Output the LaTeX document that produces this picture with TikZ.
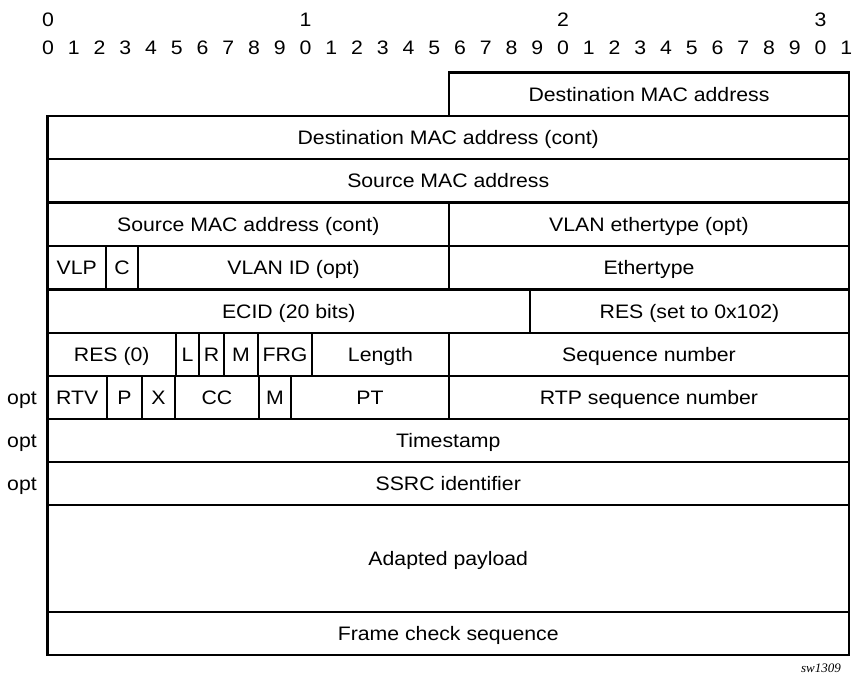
\documentclass[tikz,border=0pt]{standalone}
\usepackage{fontspec}
\setmainfont[FakeStretch=1.09]{Liberation Sans}
\newfontfamily\tagfont{Liberation Serif}
\tikzset{
  fld/.style={draw, line width=2.4pt, inner sep=0pt, anchor=center,
    font=\fontsize{19.5}{24}\selectfont, text height=14pt, text depth=0pt},
  lbl/.style={inner sep=0pt, anchor=center,
    font=\fontsize{19.5}{24}\selectfont, text height=14pt, text depth=0pt},
  tagtext/.style={inner sep=0pt, font=\tagfont\itshape\fontsize{13}{15}\selectfont},
}
% \fld{name}{x1}{y1}{x2}{y2}{text}
\newcommand\fld[6]{\node[fld, minimum width={(#4-#2)*1pt}, minimum height={(#5-#3)*1pt}]
  (#1) at ({(#2+#4)/2},{(#3+#5)/2}) {#6};}
\begin{document}
\begin{tikzpicture}[x=1pt,y=-1pt]
\useasboundingbox (0,0) rectangle (852,677);
% bit ruler
\node[lbl] (t0) at (48,20) {0};
\node[lbl] (t1) at ({48+25.75*10},20) {1};
\node[lbl] (t2) at ({48+25.75*20},20) {2};
\node[lbl] (t3) at ({48+25.75*30},20) {3};
\foreach \i in {0,...,31}{
  \pgfmathtruncatemacro\d{mod(\i,10)}
  \node[lbl] (b\i) at ({48+25.75*\i},48) {\d};
}
% rows
\fld{dmac}{449}{72.5}{849}{116}{Destination MAC address}
\fld{dmacc}{47.5}{116}{849}{159}{Destination MAC address (cont)}
\fld{smac}{47.5}{159}{849}{202.5}{Source MAC address}
\fld{smacc}{47.5}{202.5}{449}{246}{Source MAC address (cont)}
\fld{vlanet}{449}{202.5}{849}{246}{VLAN ethertype (opt)}
\fld{vlp}{47.5}{246}{106}{289.5}{VLP}
\fld{cbit}{106}{246}{138}{289.5}{C}
\fld{vid}{138}{246}{449}{289.5}{VLAN ID (opt)}
\fld{ethtype}{449}{246}{849}{289.5}{Ethertype}
\fld{ecid}{47.5}{289.5}{530}{333}{ECID (20 bits)}
\fld{resx}{530}{289.5}{849}{333}{RES (set to 0x102)}
\fld{reszero}{47.5}{333}{176}{376}{RES (0)}
\fld{lbit}{176}{333}{199}{376}{L}
\fld{rbit}{199}{333}{224}{376}{R}
\fld{mbit}{224}{333}{258}{376}{M}
\fld{frg}{258}{333}{312}{376}{FRG}
\fld{len}{312}{333}{449}{376}{Length}
\fld{seq}{449}{333}{849}{376}{Sequence number}
\fld{rtv}{47.5}{376}{107}{419}{RTV}
\fld{pbit}{107}{376}{142}{419}{P}
\fld{xbit}{142}{376}{175}{419}{X}
\fld{cc}{175}{376}{259}{419}{CC}
\fld{mbitb}{259}{376}{291}{419}{M}
\fld{pt}{291}{376}{449}{419}{PT}
\fld{rtpseq}{449}{376}{849}{419}{RTP sequence number}
\fld{ts}{47.5}{419}{849}{462}{Timestamp}
\fld{ssrc}{47.5}{462}{849}{505}{SSRC identifier}
\fld{payload}{47.5}{505}{849}{612}{Adapted payload}
\fld{fcs}{47.5}{612}{849}{655}{Frame check sequence}
% opt labels
\node[lbl] (opt1) at (22,397.5) {opt};
\node[lbl] (opt2) at (22,440.5) {opt};
\node[lbl] (opt3) at (22,483.5) {opt};
% figure tag
\node[tagtext, anchor=east] (tag) at (841,668) {sw1309};
\end{tikzpicture}
\end{document}
